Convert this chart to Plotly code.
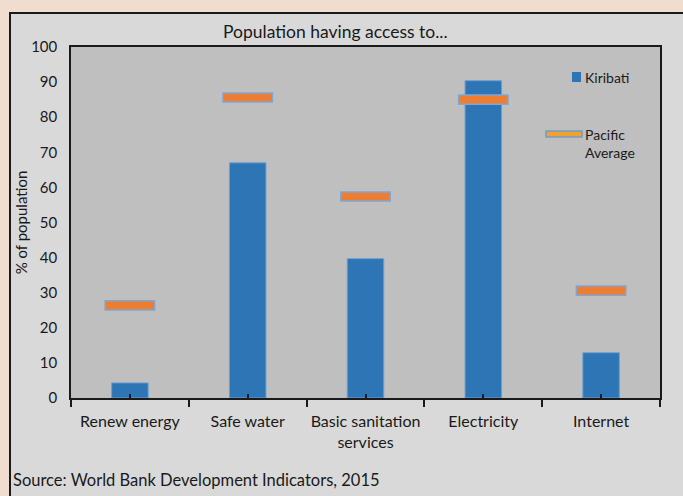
import plotly.graph_objects as go

categories = ["Renew energy", "Safe water", "Basic sanitation<br>services", "Electricity", "Internet"]
kiribati = [4.3, 67.0, 39.7, 90.4, 12.9]
pacific_avg = [26.4, 85.6, 57.4, 85.0, 30.6]
y_ticks = list(range(0, 101, 10))

FONT = "Lato"
INK = "#1a1a1a"
marker_h = 2.6
pac_base = [v - marker_h / 2 for v in pacific_avg]

L, R, T, B = 71, 23, 47, 98
W, H = 683, 496
pw, ph = W - L - R, H - T - B


def px(xp):
    return (xp - L) / pw


def py(yp):
    return (H - B - yp) / ph


fig = go.Figure()
fig.add_trace(go.Bar(
    x=categories, y=kiribati, name="Kiribati", width=0.31,
    marker=dict(color="#2E75B6", line=dict(color="#6C9FD0", width=1)),
    showlegend=False, xaxis="x", yaxis="y"))
fig.add_trace(go.Bar(
    x=categories, y=[marker_h] * len(pacific_avg), base=pac_base, name="Pacific Average",
    width=0.42,
    marker=dict(color="#ED7D31", line=dict(color="#7FA7D6", width=1.5)),
    showlegend=False, xaxis="x2", yaxis="y"))

shapes = [
    dict(type="rect", xref="paper", yref="paper", x0=px(10), x1=px(700), y0=py(13), y1=py(520),
         fillcolor="#D9D9D9", line=dict(color=INK, width=2), layer="below"),
    dict(type="rect", xref="paper", yref="paper", x0=0, x1=1, y0=0, y1=1,
         fillcolor="#BFBFBF", line=dict(width=0), layer="below"),
    dict(type="rect", xref="paper", yref="paper", x0=px(572), x1=px(581), y0=py(82), y1=py(72),
         fillcolor="#2E75B6", line=dict(width=0)),
    dict(type="rect", xref="paper", yref="paper", x0=px(546), x1=px(582), y0=py(137), y1=py(131),
         fillcolor="#F2A22B", line=dict(color="#6C9FD0", width=1.5)),
]

annotations = [
    dict(text="Population having access to...", xref="paper", yref="paper",
         x=px(335), y=py(32), xanchor="center", yanchor="middle", showarrow=False,
         font=dict(family=FONT, size=17.5, color=INK)),
    dict(text="Kiribati", xref="paper", yref="paper", x=px(583), y=py(77),
         xanchor="left", yanchor="middle", showarrow=False,
         font=dict(family=FONT, size=14, color=INK)),
    dict(text="Pacific<br>Average", xref="paper", yref="paper", x=px(583), y=py(143),
         xanchor="left", yanchor="middle", align="left", showarrow=False,
         font=dict(family=FONT, size=14, color=INK)),
    dict(text="Source: World Bank Development Indicators, 2015", xref="paper", yref="paper",
         x=px(11), y=py(480), xanchor="left", yanchor="middle", showarrow=False,
         font=dict(family=FONT, size=16.5, color=INK)),
]

fig.update_layout(
    width=W, height=H,
    margin=dict(l=L, r=R, t=T, b=B),
    paper_bgcolor="#F1DDCF",
    plot_bgcolor="#BFBFBF",
    barmode="overlay",
    font=dict(family=FONT, size=16, color=INK),
    xaxis=dict(type="category", categoryorder="array", categoryarray=categories,
               showline=True, linecolor=INK, linewidth=2, mirror=True,
               ticks="outside", tickson="boundaries", ticklen=7, tickwidth=1.5,
               tickcolor=INK, showgrid=False, tickangle=0, ticklabelstandoff=8,
               tickfont=dict(family=FONT, size=16, color=INK)),
    xaxis2=dict(type="category", overlaying="x", matches="x", side="bottom",
                ticks="inside", ticklen=4, tickwidth=1.5, tickcolor=INK,
                showticklabels=False, showline=False, showgrid=False),
    yaxis=dict(range=[0, 100], tickvals=y_ticks, ticks="", showgrid=False, zeroline=False,
               showline=True, linecolor=INK, linewidth=1.5, mirror=True,
               ticklabelstandoff=9,
               title=dict(text="% of population", standoff=0,
                          font=dict(family=FONT, size=15, color=INK)),
               tickfont=dict(family=FONT, size=15, color=INK)),
    shapes=shapes,
    annotations=annotations,
)

fig.write_html("out.html", config={"displayModeBar": False},
               post_script="document.body.style.margin='0';")
